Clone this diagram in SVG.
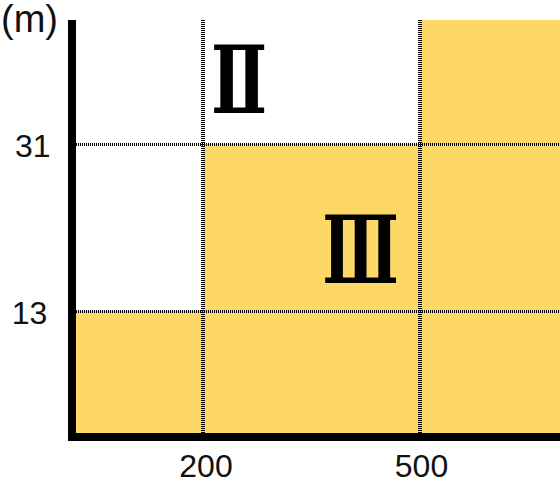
<svg xmlns="http://www.w3.org/2000/svg" width="560" height="489" viewBox="0 0 560 489">
  <style>
    .fill { fill: #FDD866; }
    .grid { stroke: #000; stroke-width: 3; stroke-dasharray: 1 1; fill: none; }
    .gridv { stroke-width: 4; }
    .axis { fill: #000; }
    .lbl { font-family: "Liberation Sans", Arial, sans-serif; font-size: 32px; fill: #111; }
    .num { font-family: "DejaVu Serif", "Liberation Serif", serif; font-size: 94px; fill: #000; text-anchor: middle; font-weight: bold; }
  </style>
  <rect width="560" height="489" fill="#fff"/>
  <g id="zones">
    <rect class="fill" x="420" y="20" width="140" height="124"/>
    <rect class="fill" x="203" y="144" width="357" height="168"/>
    <rect class="fill" x="76" y="311" width="484" height="122"/>
  </g>
  <g id="grid">
    <line class="grid gridv" x1="203" y1="20" x2="203" y2="433"/>
    <line class="grid gridv" x1="420" y1="20" x2="420" y2="433"/>
    <line class="grid" x1="76" y1="144.5" x2="560" y2="144.5"/>
    <line class="grid" x1="76" y1="311.5" x2="560" y2="311.5"/>
  </g>
  <g id="axes">
    <rect class="axis" x="68" y="20" width="8" height="421"/>
    <rect class="axis" x="68" y="433" width="492" height="8"/>
  </g>
  <g id="labels">
    <text class="lbl" x="1" y="32" style="font-size:38px">(m)</text>
    <text class="lbl" x="32.7" y="157" text-anchor="middle">31</text>
    <text class="lbl" x="29.5" y="324" text-anchor="middle">13</text>
    <text class="lbl" x="206" y="477" text-anchor="middle">200</text>
    <text class="lbl" x="421.5" y="477" text-anchor="middle">500</text>
  </g>
  <g id="zone-II">
    <text class="num" transform="translate(239,113) scale(0.71,1)" x="0" y="0">Ⅱ</text>
  </g>
  <g id="zone-III">
    <text class="num" transform="translate(360.5,283) scale(0.67,1)" x="0" y="0">Ⅲ</text>
  </g>
</svg>
